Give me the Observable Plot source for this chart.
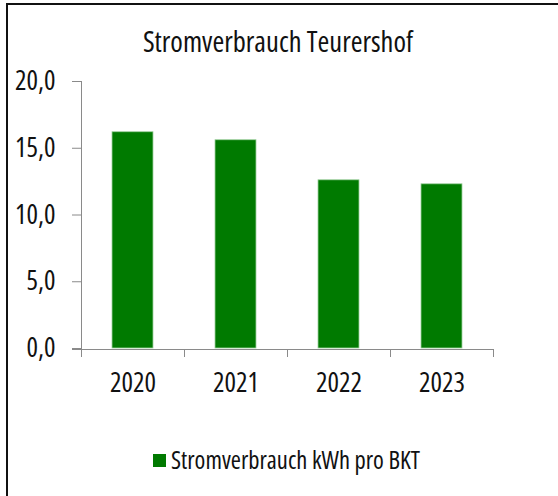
<!DOCTYPE html>
<html>
<head>
<meta charset="utf-8">
<script src="https://cdn.jsdelivr.net/npm/d3@7"></script>
<script src="https://cdn.jsdelivr.net/npm/@observablehq/plot@0.6"></script>
<style>
  html, body { margin: 0; padding: 0; background: #fff; }
  #page { position: relative; width: 558px; height: 496px; overflow: hidden; background: #fff;
          font-family: "Open Sans", sans-serif; font-stretch: 75%; color: #111; }
  #frameTop { position: absolute; left: 7px; top: 3px; width: 560px; height: 2px; background: #111; }
  #frameLeft { position: absolute; left: 6px; top: 3px; width: 2px; height: 500px; background: #111; }
  #title { position: absolute; left: 0; width: 556px; top: 24px; text-align: center; font-size: 28.5px; line-height: 34px; }
  #chart { position: absolute; left: 0; top: 60px; }
  #legend { position: absolute; left: 153px; top: 446px; font-size: 24.5px; line-height: 28px; display: flex; align-items: center; }
  #legend .sw { width: 13px; height: 13px; background: #007a00; margin-right: 5px; }
</style>
</head>
<body>
<div id="page">
  <div id="frameTop"></div>
  <div id="frameLeft"></div>
  <div id="title"></div>
  <div id="chart"></div>
  <div id="legend"><div class="sw"></div><span id="legendText"></span></div>
</div>
<script>
const title = "Stromverbrauch Teurershof";
const seriesName = "Stromverbrauch kWh pro BKT";
const years = ["2020", "2021", "2022", "2023"];
const values = [16.2, 15.6, 12.6, 12.3];
const yTicks = [0, 5, 10, 15, 20];

document.getElementById("title").textContent = title;
document.getElementById("legendText").textContent = seriesName;

const data = years.map((y, i) => ({year: y, value: values[i]}));

const W = 558, H = 340, mL = 81, mR = 65, mT = 21, mB = 52;
const pInner = 0.6, pOuter = 0.3;
const step = (W - mL - mR) / (years.length - pInner + 2 * pOuter);
const axisColor = "#8a8a8a";
const fmt = d => d.toFixed(1).replace(".", ",");

const chart = Plot.plot({
  width: W, height: H,
  marginLeft: mL, marginRight: mR, marginTop: mT, marginBottom: mB,
  style: {fontFamily: '"Open Sans", sans-serif', fontStretch: "75%", fontSize: "27px", color: "#111", background: "transparent"},
  x: {domain: years, paddingInner: pInner, paddingOuter: pOuter, label: null},
  y: {domain: [0, 20], label: null},
  marks: [
    Plot.barY(data, {x: "year", y: "value", fill: "#007a00", stroke: "#9fd09f", strokeWidth: 0.8}),
    Plot.frame({anchor: "left", stroke: axisColor}),
    Plot.ruleY([0], {stroke: axisColor, insetLeft: -9, dy: 1}),
    Plot.axisY({ticks: yTicks, tickFormat: fmt, tickSize: 9, tickPadding: 17, stroke: axisColor, fill: "#111", fontSize: 27}),
    Plot.axisX({tickSize: 0, tickPadding: 24, fill: "#111", fontSize: 27}),
    Plot.axisX({text: null, tickSize: 8, stroke: axisColor, dx: -step / 2, dy: 1}),
    Plot.axisX({ticks: [years[years.length - 1]], text: null, tickSize: 8, stroke: axisColor, dx: step / 2, dy: 1})
  ]
});
document.getElementById("chart").appendChild(chart);
</script>
</body>
</html>
